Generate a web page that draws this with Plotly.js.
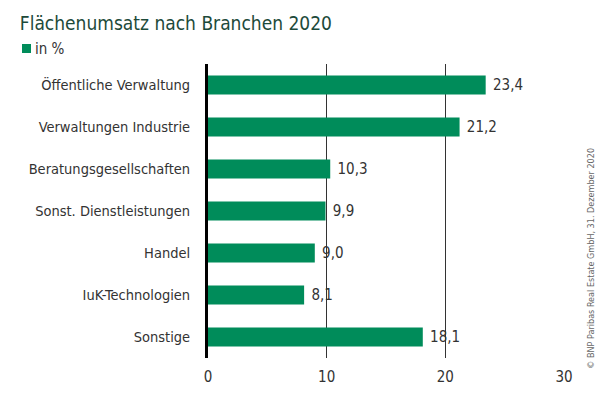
<!DOCTYPE html>
<html><head><meta charset="utf-8">
<script src="https://cdn.plot.ly/plotly-3.0.1.min.js"></script>
<style>html,body{margin:0;padding:0;background:#fff;}#chart{width:600px;height:397px;}</style>
</head><body><div id="chart"></div>
<script>
const categories = ["Öffentliche Verwaltung","Verwaltungen Industrie","Beratungsgesellschaften","Sonst. Dienstleistungen","Handel","IuK-Technologien","Sonstige"];
const values = [23.4, 21.2, 10.3, 9.9, 9.0, 8.1, 18.1];
const valueLabels = ["23,4","21,2","10,3","9,9","9,0","8,1","18,1"];
const xTicks = [0, 10, 20, 30];
const seriesName = "in %";
const FONT = "'DejaVu Sans Condensed','Liberation Sans Narrow',sans-serif";

const trace = {
  type: 'bar', orientation: 'h',
  y: categories, x: values,
  name: seriesName,
  text: valueLabels, texttemplate: '\u00a0%{text}', textposition: 'outside', cliponaxis: false,
  textfont: {family: FONT, size: 15, color: '#333'},
  marker: {color: '#008c5a'},
  hoverinfo: 'x+y', showlegend: false
};
const layout = {
  width: 600, height: 397,
  margin: {l: 208, r: 36, t: 64, b: 39},
  paper_bgcolor: '#fff', plot_bgcolor: '#fff',
  font: {family: FONT, size: 15, color: '#333'},
  bargap: 0.55,
  showlegend: false,
  title: {text: 'Flächenumsatz nach Branchen 2020', x: 0.033, xanchor: 'left', y: 0.94, yanchor: 'middle',
          xref: 'container', yref: 'container',
          font: {family: FONT, size: 19, color: '#1d4a3a'}},
  xaxis: {range: [0, 30], tickvals: xTicks, ticktext: xTicks.map(String),
          showgrid: true, gridcolor: '#333', gridwidth: 1, zeroline: false,
          showline: false, ticks: '', ticklabelstandoff: 8,
          tickfont: {family: FONT, size: 15, color: '#333'}, fixedrange: true},
  yaxis: {autorange: 'reversed', showline: true, linecolor: '#000', linewidth: 3, ticks: '',
          ticklabelstandoff: 12, tickfont: {family: FONT, size: 14.5, color: '#333'}, fixedrange: true},
  shapes: [{type: 'rect', xref: 'paper', yref: 'paper',
            x0: (22-208)/356, x1: (31-208)/356, y0: (294-(53-64))/294, y1: (294-(44-64))/294,
            fillcolor: '#008c5a', line: {width: 0}}],
  annotations: [{
    text: seriesName, xref: 'paper', yref: 'paper', x: (33-208)/356, y: (294-(48.5-64))/294,
    xanchor: 'left', yanchor: 'middle', showarrow: false,
    font: {family: FONT, size: 15, color: '#333'}
  },{
    text: '© BNP Paribas Real Estate GmbH, 31. Dezember 2020', textangle: -90,
    xref: 'paper', yref: 'paper', x: 1.075, y: 0.34, xanchor: 'center', yanchor: 'middle',
    showarrow: false, font: {family: FONT, size: 9, color: '#666'}
  }]
};
Plotly.newPlot('chart', [trace], layout, {displayModeBar: false, staticPlot: true});
</script></body></html>
